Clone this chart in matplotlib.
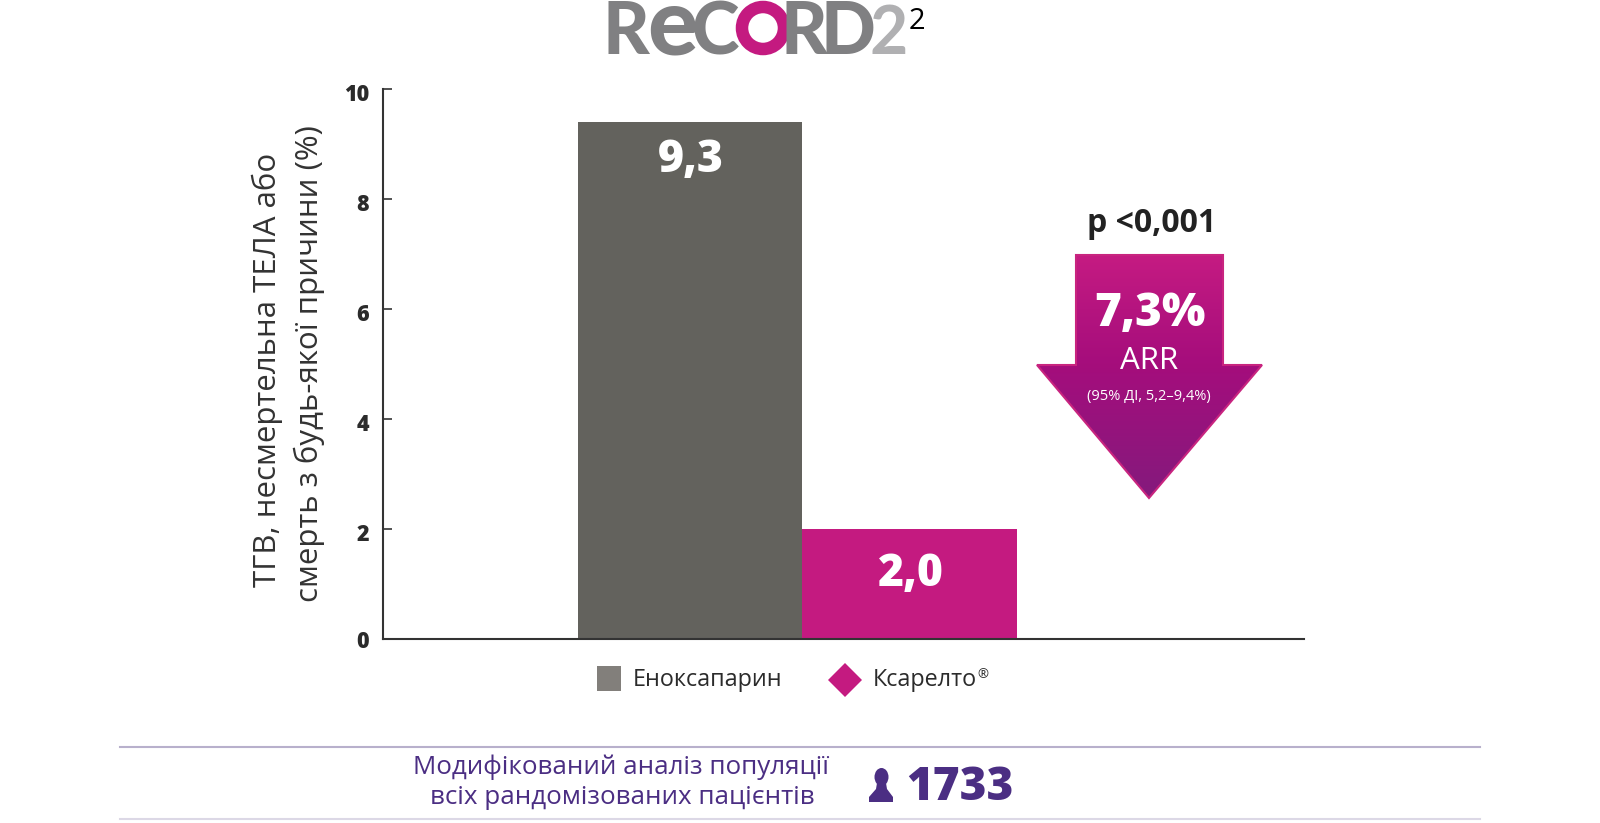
import numpy as np
import matplotlib
matplotlib.use("Agg")
import matplotlib.pyplot as plt
from matplotlib.patches import Polygon, Circle, Rectangle, Ellipse
from matplotlib.transforms import ScaledTranslation

plt.rcParams["font.family"] = ["Open Sans", "Noto Sans", "DejaVu Sans"]

# data
groups = ["Еноксапарин", "Ксарелто"]
bar_heights = [9.4, 2.0]
bar_labels = ["9,3", "2,0"]
y_ticks = [0, 2, 4, 6, 8, 10]
y_label_lines = ["ТГВ, несмертельна ТЕЛА або", "смерть з будь-якої причини (%)"]
p_text = "p <0,001"
arr_value = "7,3%"
arr_name = "ARR"
arr_ci = "(95% ДІ, 5,2–9,4%)"
population_lines = ["Модифікований аналіз популяції", "всіх рандомізованих пацієнтів"]
population_n = "1733"

GREY = "#63625d"
MAGENTA = "#c41a80"
PURPLE = "#4b2e83"
INK = "#2b2b2b"
LOGO_GREY = "#808082"

W, H = 1600, 823
fig = plt.figure(figsize=(W / 100, H / 100), dpi=100)

# overlay in pixel coordinates for everything around the chart
bg = fig.add_axes([0, 0, 1, 1])
bg.set_xlim(0, W)
bg.set_ylim(H, 0)
bg.axis("off")

# main chart
ax_l, ax_r, ax_t, ax_b = 383, 1304, 89, 639
ax = fig.add_axes([ax_l / W, 1 - ax_b / H, (ax_r - ax_l) / W, (ax_b - ax_t) / H])
ax.patch.set_alpha(0)
ax.set_xlim(0, 1)
ax.set_ylim(0, 10)
bar_left = [0.2115, 0.4549]
bar_width = [0.2434, 0.2335]
bar_colors = [GREY, MAGENTA]
bars = ax.bar(bar_left, bar_heights, width=bar_width, align="edge", color=bar_colors, linewidth=0)
for rect, label in zip(bars, bar_labels):
    ax.annotate(
        label,
        (rect.get_x() + rect.get_width() / 2, rect.get_height()),
        xytext=(1, -28 if rect.get_height() > 5 else -33),
        textcoords="offset points",
        ha="center",
        va="center",
        color="white",
        fontsize=32,
        fontweight=800,
    )
ax.spines["top"].set_visible(False)
ax.spines["right"].set_visible(False)
ax.spines["left"].set_color("#333333")
ax.spines["bottom"].set_color("#333333")
ax.spines["left"].set_linewidth(1.5)
ax.spines["bottom"].set_linewidth(1.5)
ax.set_xticks([])
ax.set_yticks(y_ticks)
ax.tick_params(axis="y", direction="in", length=6.5, width=1.2, color="#333333", pad=10)
for value, t in zip(y_ticks, ax.get_yticklabels()):
    t.set_fontsize(15.5)
    t.set_fontweight(800)
    t.set_color(INK)
    drop = 0 if value == 0 else -2 / 72
    t.set_transform(t.get_transform() + ScaledTranslation(0, drop, fig.dpi_scale_trans))

bg.text(267, 370, y_label_lines[0], rotation=90, ha="center", va="center", fontsize=22.5, color="#333333")
bg.text(309, 364, y_label_lines[1], rotation=90, ha="center", va="center", fontsize=22.5, color="#333333")

# logo
logo = [("R", 603, 72, LOGO_GREY, "black"), ("e", 647, 94, LOGO_GREY, "black"), ("C", 692, 72, LOGO_GREY, "black"),
        ("R", 780, 72, LOGO_GREY, "black"), ("D", 821, 72, LOGO_GREY, "black"), ("2", 869, 66, "#b0b0b2", "bold")]
for letter, x, size, color, weight in logo:
    bg.text(x, 54, letter, fontsize=size * 0.72, fontweight=weight, color=color, ha="left", va="baseline",
            family=["Lato", "Open Sans"])
bg.add_patch(Circle((763, 28), 21, facecolor="none", edgecolor=MAGENTA, linewidth=9))
bg.text(917, 21, "2", fontsize=21, color="black", ha="center", va="center")

# arrow with gradient
arrow_xy = [(1076, 255), (1223, 255), (1223, 365), (1262, 365), (1149, 498), (1037, 365), (1076, 365)]
stops = np.array([[0.773, 0.106, 0.510], [0.647, 0.051, 0.486], [0.518, 0.102, 0.490]])
pos = np.linspace(0, 1, 200)
grad = np.stack([np.interp(pos, [0, 0.45, 1], stops[:, i]) for i in range(3)], axis=1)[:, None, :]
im = bg.imshow(grad, extent=(1037, 1262, 498, 254), aspect="auto", zorder=2)
outline = Polygon(arrow_xy, closed=True, facecolor="none", edgecolor="#c8247f", linewidth=1.5, zorder=3)
bg.add_patch(outline)
im.set_clip_path(outline)
bg.set_xlim(0, W)
bg.set_ylim(H, 0)

bg.text(1152, 223, p_text, ha="center", va="center", fontsize=23, fontweight="bold", color="#222222")
bg.text(1150, 314, arr_value, ha="center", va="center", fontsize=33, fontweight=800, color="white", zorder=4)
bg.text(1149, 361, arr_name, ha="center", va="center", fontsize=22.5, color="white", zorder=4)
bg.text(1149, 396, arr_ci, ha="center", va="center", fontsize=10.5, color="white", zorder=4)

# legend
bg.add_patch(Rectangle((597, 666), 24, 25, facecolor="#827f7b", linewidth=0))
bg.text(633, 680, groups[0], ha="left", va="center", fontsize=16.8, color=INK)
bg.add_patch(Polygon([(845, 663), (862, 680), (845, 697), (828, 680)], closed=True, facecolor=MAGENTA, linewidth=0))
bg.text(873, 680, groups[1], ha="left", va="center", fontsize=16.8, color=INK)
bg.text(977, 675, "®", ha="left", va="center", fontsize=9.5, color=INK)

# population strip
bg.plot([120, 1480], [747, 747], color="#b8b0cc", linewidth=1.5)
bg.plot([120, 1480], [819, 819], color="#dcd8e6", linewidth=1.5)
bg.text(621, 767, population_lines[0], ha="center", va="center", fontsize=18.7, color=PURPLE)
bg.text(622, 798, population_lines[1], ha="center", va="center", fontsize=18.7, color=PURPLE)
bg.text(906, 788, population_n, ha="left", va="center", fontsize=33, fontweight=800, color=PURPLE)
bg.add_patch(Ellipse((881.5, 777), 14, 18, facecolor=PURPLE, linewidth=0))
bg.add_patch(Polygon([(877, 783), (886, 783), (887, 789), (893, 797), (893, 802), (869, 802), (869, 797), (876, 789)],
                     closed=True, facecolor=PURPLE, linewidth=0))

fig.savefig("out.png", dpi=100)
